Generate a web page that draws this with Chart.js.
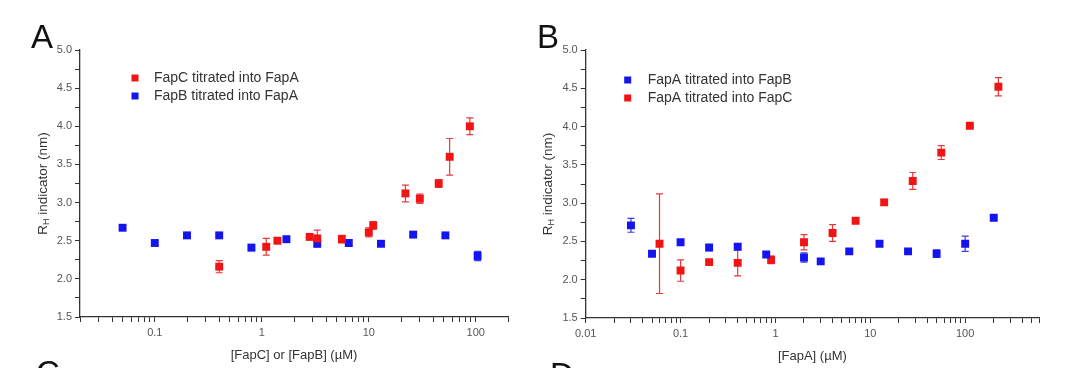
<!DOCTYPE html>
<html><head><meta charset="utf-8">
<script src="https://cdn.jsdelivr.net/npm/chart.js@4.4.1/dist/chart.umd.min.js"></script>
<style>
html,body{margin:0;padding:0;background:#fff;width:1080px;height:368px;overflow:hidden;}
#ca{position:absolute;left:0;top:0;}
#cb{position:absolute;left:520px;top:0;}
</style></head><body>
<canvas id="ca" width="540" height="368" style="width:540px;height:368px"></canvas>
<canvas id="cb" width="560" height="368" style="width:560px;height:368px"></canvas>
<script>
// ---------- Panel A data ----------
const aRedLabel = 'FapC titrated into FapA';
const aRedX = [0.4, 1.1, 1.4, 2.8, 3.3, 5.6, 10, 11, 22, 30, 45, 57, 88];
const aRedY = [2.16, 2.42, 2.50, 2.55, 2.53, 2.52, 2.61, 2.70, 3.12, 3.05, 3.25, 3.60, 4.00];
const aRedErr = [0.08, 0.11, 0.03, 0.03, 0.11, 0.05, 0.06, 0.05, 0.11, 0.06, 0.05, 0.24, 0.11];

const aBlueLabel = 'FapB titrated into FapA';
const aBlueX = [0.05, 0.1, 0.2, 0.4, 0.8, 1.7, 3.3, 6.5, 13, 26, 52, 104];
const aBlueY = [2.67, 2.47, 2.57, 2.57, 2.41, 2.52, 2.46, 2.47, 2.46, 2.58, 2.57, 2.30];
const aBlueErr = [0.03, 0.03, 0.02, 0.02, 0.04, 0.02, 0.03, 0.04, 0.02, 0.02, 0.02, 0.06];

// ---------- Panel B data ----------
const bBlueLabel = 'FapA titrated into FapB';
const bBlueX = [0.03, 0.05, 0.1, 0.2, 0.4, 0.8, 2, 3, 6, 12.5, 25, 50, 100, 200];
const bBlueY = [2.71, 2.34, 2.49, 2.42, 2.43, 2.33, 2.29, 2.24, 2.37, 2.47, 2.37, 2.34, 2.47, 2.81];
const bBlueErr = [0.09, 0.02, 0.03, 0.04, 0.03, 0.03, 0.06, 0.02, 0.03, 0.02, 0.02, 0.05, 0.10, 0.02];

const bRedLabel = 'FapA titrated into FapC';
const bRedX = [0.06, 0.1, 0.2, 0.4, 0.9, 2, 4, 7, 14, 28, 56, 112, 224];
const bRedY = [2.47, 2.12, 2.23, 2.22, 2.26, 2.49, 2.61, 2.77, 3.01, 3.29, 3.66, 4.01, 4.52];
const bRedErr = [0.65, 0.14, 0.03, 0.17, 0.05, 0.10, 0.11, 0.02, 0.04, 0.11, 0.09, 0.02, 0.12];

// ---------- Axis ticks ----------
const xTicksA = [0.02,0.03,0.04,0.05,0.06,0.07,0.08,0.09,
  0.1,0.2,0.3,0.4,0.5,0.6,0.7,0.8,0.9,
  1,2,3,4,5,6,7,8,9,
  10,20,30,40,50,60,70,80,90,
  100,200];
const xLabelValuesA = [0.1, 1, 10, 100];
const xLabelsA = ['0.1', '1', '10', '100'];

const xTicksB = [0.01,0.02,0.03,0.04,0.05,0.06,0.07,0.08,0.09,
  0.1,0.2,0.3,0.4,0.5,0.6,0.7,0.8,0.9,
  1,2,3,4,5,6,7,8,9,
  10,20,30,40,50,60,70,80,90,
  100,200,300,400,500,600];
const xLabelValuesB = [0.01, 0.1, 1, 10, 100];
const xLabelsB = ['0.01', '0.1', '1', '10', '100'];

const yLabelValues = [1.5, 2.0, 2.5, 3.0, 3.5, 4.0, 4.5, 5.0];
const yLabels = ['1.5', '2.0', '2.5', '3.0', '3.5', '4.0', '4.5', '5.0'];

const xTitleA = '[FapC] or [FapB] (\u00b5M)';
const xTitleB = '[FapA] (\u00b5M)';

const RED = '#f01414';
const BLUE = '#1414f0';
const FONT = '"Liberation Sans", Arial, Helvetica, sans-serif';

function pts(xs, ys, es) { return xs.map((x, i) => ({x: x, y: ys[i], e: es[i]})); }

function labelFor(v, vals, labs) {
  for (let i = 0; i < vals.length; i++) {
    if (Math.abs(v - vals[i]) < 1e-9 * Math.max(1, vals[i]) + 1e-12) return labs[i];
  }
  return '';
}

const errorBars = {
  id: 'errorBars',
  beforeDatasetsDraw(chart) {
    const ctx = chart.ctx, xs = chart.scales.x, ys = chart.scales.y;
    chart.data.datasets.forEach(ds => {
      ctx.save();
      ctx.strokeStyle = ds.errColor;
      ctx.lineWidth = 1.2;
      ds.data.forEach(p => {
        const px = xs.getPixelForValue(p.x);
        const y1 = ys.getPixelForValue(p.y - p.e), y2 = ys.getPixelForValue(p.y + p.e);
        ctx.beginPath();
        ctx.moveTo(px, y1); ctx.lineTo(px, y2);
        ctx.moveTo(px - 3.5, y1); ctx.lineTo(px + 3.5, y1);
        ctx.moveTo(px - 3.5, y2); ctx.lineTo(px + 3.5, y2);
        ctx.stroke();
      });
      ctx.restore();
    });
  }
};

const decor = {
  id: 'decor',
  afterDraw(chart, args, o) {
    const ctx = chart.ctx, ca = chart.chartArea;
    ctx.save();
    // panel letters
    ctx.fillStyle = '#111';
    ctx.textAlign = 'left';
    ctx.textBaseline = 'alphabetic';
    ctx.font = '33px ' + FONT;
    ctx.fillText(o.letter, o.letterX, o.letterY);
    ctx.fillText(o.nextLetter, o.nextX, o.nextY);
    // x title
    ctx.fillStyle = '#333';
    ctx.font = '13px ' + FONT;
    ctx.textAlign = 'center';
    ctx.textBaseline = 'middle';
    ctx.fillText(o.xTitle, (ca.left + ca.right) / 2, o.xTitleY);
    // y title with subscript
    ctx.save();
    ctx.translate(o.yTitleX, (ca.top + ca.bottom) / 2);
    ctx.rotate(-Math.PI / 2);
    ctx.textAlign = 'left';
    ctx.textBaseline = 'middle';
    const big = '13.5px ' + FONT, small = '9px ' + FONT;
    ctx.font = big; const wR = ctx.measureText('R').width;
    const rest = ' indicator (nm)'; const wRest = ctx.measureText(rest).width;
    ctx.font = small; const wH = ctx.measureText('H').width;
    let sx = -(wR + wH + wRest) / 2;
    ctx.font = big; ctx.fillText('R', sx, 0); sx += wR;
    ctx.font = small; ctx.fillText('H', sx, 4); sx += wH;
    ctx.font = big; ctx.fillText(rest, sx, 0);
    ctx.restore();
    // legend
    ctx.font = '14px ' + FONT;
    ctx.textAlign = 'left';
    ctx.textBaseline = 'middle';
    chart.data.datasets.forEach((ds, i) => {
      const y = o.legY + i * o.legStep;
      ctx.fillStyle = ds.backgroundColor;
      ctx.fillRect(o.legX - 3.5, y - 3.5, 7, 7);
      ctx.fillStyle = '#333';
      ctx.fillText(ds.label, o.legTextX, y);
    });
    ctx.restore();
  }
};

function makeChart(id, datasets, xMin, xMax, xTicks, xLabVals, xLabs, pad, decorOpts) {
  return new Chart(document.getElementById(id), {
    type: 'scatter',
    data: { datasets: datasets },
    options: {
      responsive: false,
      animation: false,
      events: [],
      layout: { padding: pad },
      plugins: { legend: { display: false }, tooltip: { enabled: false }, decor: decorOpts },
      elements: { point: { pointStyle: 'rect', radius: 5.6, borderWidth: 0 } },
      scales: {
        x: {
          type: 'logarithmic', min: xMin, max: xMax,
          afterBuildTicks: s => { s.ticks = xTicks.map(v => ({ value: v })); },
          afterFit: s => { s.height = 40; },
          ticks: {
            autoSkip: false, maxRotation: 0, minRotation: 0, padding: 4,
            color: '#555', font: { family: FONT, size: 11 },
            callback: v => labelFor(v, xLabVals, xLabs)
          },
          grid: { drawOnChartArea: false, drawTicks: true, tickLength: 5, tickColor: '#333', tickWidth: 1 },
          border: { color: '#333', width: 1.3 }
        },
        y: {
          type: 'linear', min: 1.5, max: 5.0,
          afterFit: s => { s.width = 50; },
          ticks: {
            stepSize: 0.25, autoSkip: false, padding: 3,
            color: '#555', font: { family: FONT, size: 11 },
            callback: v => labelFor(v, yLabelValues, yLabels)
          },
          grid: { drawOnChartArea: false, drawTicks: true, tickLength: 5, tickColor: '#333', tickWidth: 1 },
          border: { color: '#333', width: 1.3 }
        }
      }
    },
    plugins: [errorBars, decor]
  });
}

makeChart('ca', [
  { label: aRedLabel, data: pts(aRedX, aRedY, aRedErr), backgroundColor: RED, borderColor: RED, errColor: '#e83a3a' },
  { label: aBlueLabel, data: pts(aBlueX, aBlueY, aBlueErr), backgroundColor: BLUE, borderColor: BLUE, errColor: '#3a3ae8' }
], 0.02, 200, xTicksA, xLabelValuesA, xLabelsA,
  { left: 30, right: 32, top: 50, bottom: 11 },
  { letter: 'A', letterX: 31, letterY: 48, nextLetter: 'C', nextX: 36, nextY: 384,
    xTitle: xTitleA, xTitleY: 355, yTitleX: 43,
    legX: 135, legTextX: 154, legY: 78, legStep: 18 });

makeChart('cb', [
  { label: bBlueLabel, data: pts(bBlueX, bBlueY, bBlueErr), backgroundColor: BLUE, borderColor: BLUE, errColor: '#3a3ae8' },
  { label: bRedLabel, data: pts(bRedX, bRedY, bRedErr), backgroundColor: RED, borderColor: RED, errColor: '#e83a3a' }
], 0.01, 600, xTicksB, xLabelValuesB, xLabelsB,
  { left: 15.7, right: 41, top: 50, bottom: 10 },
  { letter: 'B', letterX: 17, letterY: 48, nextLetter: 'D', nextX: 30, nextY: 386,
    xTitle: xTitleB, xTitleY: 356, yTitleX: 28,
    legX: 107.7, legTextX: 127.7, legY: 80, legStep: 18 });
</script>
</body></html>
